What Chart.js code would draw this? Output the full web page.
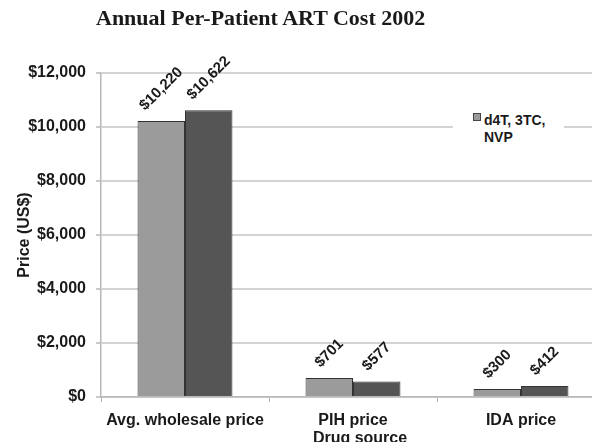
<!DOCTYPE html>
<html>
<head>
<meta charset="utf-8">
<script src="https://cdn.jsdelivr.net/npm/chart.js@4/dist/chart.umd.min.js"></script>
<style>
  html, body { margin: 0; padding: 0; background: #fff; }
  body { width: 592px; height: 442px; overflow: hidden; position: relative; }
  #wrap { position: absolute; left: 0; top: 0; width: 640px; height: 442px; }
  #title { position: absolute; left: 96px; top: 7px; font: bold 22px "Liberation Serif", "Times New Roman", serif; line-height: 22px; color: #1a1a1a; white-space: nowrap; }
  #legend { position: absolute; left: 453px; top: 100px; width: 111px; height: 50px; background: #fff; }
  #legend .sw { position: absolute; left: 20px; top: 13px; width: 6px; height: 6px; border: 1px solid #444; }
  #legend .tx { position: absolute; left: 31px; top: 11.6px; width: 72px; font: bold 14px "Liberation Sans", Arial, sans-serif; line-height: 17px; color: #1a1a1a; }
  #xtitle { position: absolute; left: 260px; top: 427.5px; width: 200px; text-align: center; font: bold 16px "Liberation Sans", Arial, sans-serif; line-height: 19px; color: #1a1a1a; }
</style>
</head>
<body>
<div id="wrap"><canvas id="c" width="640" height="442"></canvas></div>
<div id="title"></div>
<div id="legend"><div class="sw"></div><div class="tx"></div></div>
<div id="xtitle"></div>
<script>
const chartTitle = "Annual Per-Patient ART Cost 2002";
const categories = ["Avg. wholesale price", "PIH price", "IDA price"];
const seriesNames = ["d4T, 3TC, NVP", "Series 2"];
const series1 = [10220, 701, 300];
const series2 = [10622, 577, 412];
const seriesColors = ["#9b9b9b", "#555555"];
const yTicks = [0, 2000, 4000, 6000, 8000, 10000, 12000];
const yTitle = "Price (US$)";
const xTitle = "Drug source";

document.getElementById('title').textContent = chartTitle;
document.getElementById('xtitle').textContent = xTitle;
document.querySelector('#legend .tx').textContent = seriesNames[0];
document.querySelector('#legend .sw').style.background = seriesColors[0];

const fmt = v => '$' + Number(v).toLocaleString('en-US');

const labelPlugin = {
  id: 'rotLabels',
  afterDatasetsDraw(chart) {
    const ctx = chart.ctx;
    ctx.save();
    ctx.font = 'bold 15px "Liberation Sans", Arial, sans-serif';
    ctx.fillStyle = '#1a1a1a';
    ctx.textAlign = 'center';
    ctx.textBaseline = 'middle';
    chart.data.datasets.forEach((ds, di) => {
      const meta = chart.getDatasetMeta(di);
      meta.data.forEach((bar, i) => {
        const txt = fmt(ds.data[i]);
        const w = ctx.measureText(txt).width;
        const h = 11;
        const d = (w + h) / (2 * Math.SQRT2);
        ctx.save();
        ctx.translate(bar.x, bar.y - 9 - d);
        ctx.rotate(-Math.PI / 4);
        ctx.fillText(txt, 0, 0);
        ctx.restore();
      });
    });
    ctx.restore();
  }
};

new Chart(document.getElementById('c'), {
  type: 'bar',
  data: {
    labels: categories,
    datasets: [
      { label: seriesNames[0], data: series1, backgroundColor: seriesColors[0], borderColor: '#333', borderWidth: 1 },
      { label: seriesNames[1], data: series2, backgroundColor: seriesColors[1], borderColor: '#333', borderWidth: 1 }
    ]
  },
  options: {
    responsive: false,
    animation: false,
    events: [],
    layout: { padding: { top: 73, right: 35, bottom: 0, left: 0 } },
    datasets: { bar: { barPercentage: 1, categoryPercentage: 0.565 } },
    plugins: { legend: { display: false }, title: { display: false }, tooltip: { enabled: false } },
    scales: {
      x: {
        afterFit: s => { s.height = 45; },
        grid: { display: true, drawOnChartArea: false, drawTicks: true, tickLength: 5, color: '#b8b8b8', offset: true },
        border: { color: '#b8b8b8', width: 1.5 },
        ticks: { color: '#1a1a1a', padding: 9, font: { family: '"Liberation Sans", Arial, sans-serif', size: 16, weight: 'bold' }, maxRotation: 0 }
      },
      y: {
        min: 0, max: 12000,
        afterFit: s => { s.width = 101; },
        afterBuildTicks: s => { s.ticks = yTicks.map(v => ({ value: v })); },
        grid: { color: '#d4d4d4', lineWidth: 2, tickLength: 5, tickColor: '#b8b8b8', tickWidth: 1.5 },
        border: { color: '#b8b8b8', width: 1.5 },
        ticks: { color: '#1a1a1a', padding: 10, callback: v => fmt(v), font: { family: '"Liberation Sans", Arial, sans-serif', size: 16, weight: 'bold' } },
        title: { display: true, text: yTitle, color: '#1a1a1a', padding: { top: 15, bottom: 0 }, font: { family: '"Liberation Sans", Arial, sans-serif', size: 16, weight: 'bold' } }
      }
    }
  },
  plugins: [labelPlugin]
});
</script>
</body>
</html>
